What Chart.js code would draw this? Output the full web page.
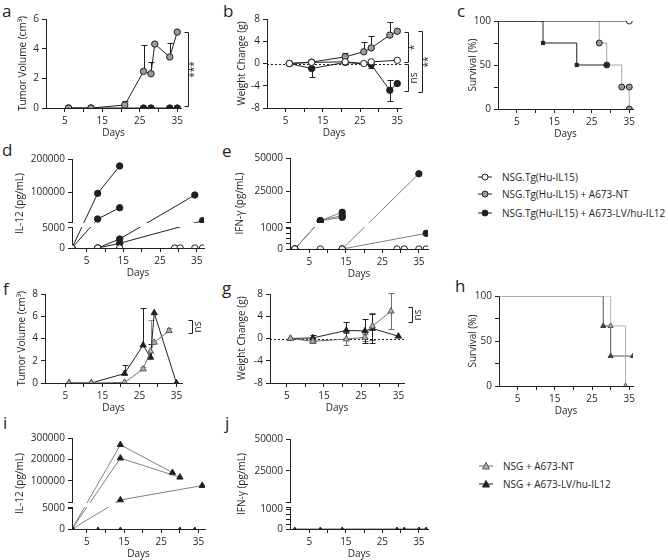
<!DOCTYPE html>
<html lang="en">
<head>
<meta charset="utf-8">
<title>IL-12 / IL-15 mouse panels</title>
<script src="https://cdn.jsdelivr.net/npm/chart.js@4.4.1/dist/chart.umd.min.js"></script>
<style>
  html, body { margin: 0; padding: 0; background: #fff; }
  body { position: relative; width: 668px; height: 560px; overflow: hidden;
         font-family: "Open Sans", sans-serif; color: #231f20; }
  canvas { position: absolute; }
  .tag { position: absolute; font-size: 17px; line-height: 17px; }
  .key { position: absolute; font-size: 10px; line-height: 12px; white-space: nowrap; }
  .key svg { vertical-align: middle; margin-right: 10px; position: relative; top: -1px; }
</style>
</head>
<body>
<div class="tag" style="left:2px;top:2px">a</div>
<div class="tag" style="left:223px;top:2px">b</div>
<div class="tag" style="left:457px;top:2px">c</div>
<div class="tag" style="left:2px;top:141px">d</div>
<div class="tag" style="left:222px;top:142px">e</div>
<div class="tag" style="left:3px;top:280px">f</div>
<div class="tag" style="left:222px;top:279px">g</div>
<div class="tag" style="left:455px;top:277px">h</div>
<div class="tag" style="left:3px;top:414px">i</div>
<div class="tag" style="left:225px;top:414px">j</div>

<div class="key" style="left:478px;top:171px"><svg width="14" height="8"><line x1="0" y1="4" x2="14" y2="4" stroke="#231f20"/><circle cx="7" cy="4" r="3" fill="#fff" stroke="#231f20"/></svg>NSG.Tg(Hu-IL15)</div>
<div class="key" style="left:478px;top:188px"><svg width="14" height="8"><line x1="0" y1="4" x2="14" y2="4" stroke="#231f20"/><circle cx="7" cy="4" r="3" fill="#9b9b9b" stroke="#231f20"/></svg>NSG.Tg(Hu-IL15) + A673-NT</div>
<div class="key" style="left:478px;top:207px"><svg width="14" height="8"><line x1="0" y1="4" x2="14" y2="4" stroke="#231f20"/><circle cx="7" cy="4" r="3" fill="#231f20" stroke="#231f20"/></svg>NSG.Tg(Hu-IL15) + A673-LV/hu-IL12</div>
<div class="key" style="left:479px;top:460px"><svg width="14" height="8"><line x1="0" y1="4" x2="14" y2="4" stroke="#6d6d6d"/><polygon points="7,0.5 10.5,7 3.5,7" fill="#b4b4b4" stroke="#555"/></svg>NSG + A673-NT</div>
<div class="key" style="left:479px;top:478px"><svg width="14" height="8"><line x1="0" y1="4" x2="14" y2="4" stroke="#231f20"/><polygon points="7,0.5 10.5,7 3.5,7" fill="#231f20" stroke="#231f20"/></svg>NSG + A673-LV/hu-IL12</div>

<script>
// ---- data ----
const dayTicks = [5, 10, 15, 20, 25, 30, 35];
const dayLabels = [5, 15, 25, 35];

// a: tumour volume, NSG.Tg(Hu-IL15)
const aTicks = [0, 2, 4, 6];
const aNTDays = [6, 12, 21, 26, 28, 29, 33, 35];
const aNT = [0, 0, 0.2, 2.47, 2.31, 4.31, 3.44, 5.12];
const aNTErr = [0, 0, 0.25, 1.8, 0.77, 0, 0.94, 0];
const aLVDays = [6, 12, 26, 28, 33, 35];
const aLV = [0, 0, 0, 0, 0, 0];

// b: weight change
const bTicks = [-8, -4, 0, 4, 8];
const bCtrlDays = [6, 12, 21, 26, 28, 35];
const bCtrl = [0, 0.2, 0.3, 0, 0.3, 0.57];
const bNTDays = [6, 12, 21, 26, 28, 33, 35];
const bNT = [0, 0.25, 1.2, 2.1, 2.8, 5.1, 5.8];
const bNTErr = [0, 0, 0.6, 1.7, 2.2, 2.3, 0];
const bLVDays = [6, 12, 21, 28, 33, 35];
const bLV = [0, -0.9, 0.2, -0.2, -4.8, -3.6];
const bLVErrHi = [0, 0, 0, 0, 1.8, 0];
const bLVErrLo = [0, 1.5, 0, 0.6, 1.9, 0];

// c: survival
const cTicks = [0, 25, 50, 75, 100];
const cLabels = [0, 50, 100];
const cCtrlDays = [0, 35];
const cCtrl = [100, 100];
const cNTDays = [0, 27, 29, 33, 35, 35];
const cNT = [100, 75, 50, 25, 25, 0];
const cLVDays = [0, 12, 21, 29];
const cLV = [100, 75, 50, 50];

// d: IL-12, one row per mouse
const dTicks = [0, 5000, 100000, 200000];
const dZeroDays = [1, 8, 14, 29, 30.5, 34.5, 36.6];
const dZero = [0, 0, 0, 0, 0, 0, 0];
const dDays = [[1, 8, 14], [1, 8, 14], [8, 14, 34.5], [8, 14, 36.6]];
const dIL12 = [[0, 96000, 178800], [0, 18200, 52400], [0, 2250, 90900], [0, 1170, 13000]];

// e: IFN-gamma, one row per mouse
const eTicks = [0, 250, 500, 750, 1000, 25000, 50000];
const eLabels = [0, 1000, 25000, 50000];
const eZeroDays = [1, 8, 14, 29, 31, 35, 37];
const eZero = [0, 0, 0, 0, 0, 0, 0];
const eDays = [[1, 8, 14], [1, 8, 14], [1, 8, 14], [14, 35], [14, 37]];
const eIFNg = [[0, 3300, 9600], [0, 3300, 7200], [0, 3300, 5800], [0, 38250], [0, 760]];

// f: tumour volume, NSG
const fTicks = [0, 2, 4, 6, 8];
const fNTDays = [6, 12, 21, 26, 28, 29, 33];
const fNT = [0, 0, 0.05, 1.25, 2.85, 3.65, 4.7];
const fNTErr = [0, 0, 0, 0.15, 2.8, 0, 0.2];
const fLVDays = [6, 12, 21, 26, 28, 29, 35];
const fLV = [0, 0, 0.85, 3.4, 2.3, 6.3, 0];
const fLVErr = [0, 0, 0.8, 3.3, 1.2, 0, 0];

// g: weight change, NSG
const gTicks = [-8, -4, 0, 4, 8];
const gNTDays = [6, 12, 21, 26, 28, 33];
const gNT = [0, -0.5, -0.1, 0.2, 2.2, 4.9];
const gNTErr = [0, 0.3, 1.1, 0.6, 2.4, 3.2];
const gLVDays = [6, 12, 21, 26, 28, 35];
const gLV = [0, 0.1, 1.45, 1.35, 1.8, 0.4];
const gLVErr = [0, 0.6, 1.6, 2.2, 2.6, 0];

// h: survival, NSG
const hNTDays = [0, 30, 34];
const hNT = [100, 66.7, 0];
const hLVDays = [0, 28, 30, 36];
const hLV = [100, 66.7, 33.3, 33.3];

// i: IL-12, NSG
const iTicks = [0, 5000, 100000, 200000, 300000];
const iZeroDays = [1, 8, 14, 30, 34];
const iZero = [0, 0, 0, 0, 0];
const iDays = [[1, 14, 28], [1, 14, 30], [1, 14, 36]];
const iIL12 = [[0, 268600, 139000], [0, 206000, 117000], [0, 11000, 78000]];

// j: IFN-gamma, NSG
const jZeroDays = [1, 8, 14, 29, 31, 35, 37];
const jZero = [0, 0, 0, 0, 0, 0, 0];

// ---- look ----
const INK = '#231f20';
const FONT = { family: '"Open Sans", sans-serif', size: 10 };

const CTRL = { borderColor: INK, pointBackgroundColor: '#fff', pointBorderColor: INK, pointRadius: 3.2 };
const NT = { borderColor: INK, pointBackgroundColor: '#9b9b9b', pointBorderColor: INK, pointRadius: 3.2 };
const LV = { borderColor: INK, pointBackgroundColor: INK, pointBorderColor: INK, pointRadius: 3.2 };
const TRI_NT = { borderColor: '#6d6d6d', pointStyle: 'triangle', pointBackgroundColor: '#b4b4b4', pointBorderColor: '#555', pointRadius: 3.6 };
const TRI_LV = { borderColor: INK, pointStyle: 'triangle', pointBackgroundColor: INK, pointBorderColor: INK, pointRadius: 3.6 };

// plot-area boxes in page pixels: l,t,r,b of the axes, ty = y title centre, tx = "Days" centre
const boxes = {
  a: { l: 46, t: 19, r: 181, b: 108, ty: 22.5, tx: 133, pr: 24 },
  b: { l: 267, t: 19, r: 401, b: 108, ty: 241.5, tx: 133, pr: 36 },
  c: { l: 498, t: 21, r: 633, b: 109, ty: 473, tx: 134, pr: 10 },
  d: { l: 72, t: 159, r: 204, b: 248, ty: 19.5, tx: 273, pr: 10 },
  e: { l: 290, t: 158, r: 428, b: 249, ty: 240, tx: 274, pr: 10 },
  f: { l: 45, t: 294, r: 182, b: 383, ty: 22, tx: 408, pr: 26 },
  g: { l: 270, t: 294, r: 404, b: 383, ty: 242, tx: 408, pr: 24 },
  h: { l: 499, t: 296, r: 633, b: 386, ty: 472.5, tx: 411, pr: 10 },
  i: { l: 72, t: 438, r: 205, b: 529, ty: 20, tx: 554, pr: 10 },
  j: { l: 290, t: 439, r: 428, b: 529, ty: 242, tx: 554, pr: 10 }
};

// y axis with a break: lower and upper value ranges share one axis
class BrokenScale extends Chart.LinearScale {
  getPixelForValue(value) {
    const br = this.options.break;
    const lo = br.lo, hi = br.hi, at = br.at;
    let dec;
    if (value <= lo[1]) dec = (value - lo[0]) / (lo[1] - lo[0]) * at[0];
    else if (value < hi[0]) dec = at[0] + (value - lo[1]) / (hi[0] - lo[1]) * (at[1] - at[0]);
    else dec = at[1] + (value - hi[0]) / (hi[1] - hi[0]) * (1 - at[1]);
    return this.getPixelForDecimal(dec);
  }
}
BrokenScale.id = 'broken';
BrokenScale.defaults = {};
Chart.register(BrokenScale);

function seg(ctx, x1, y1, x2, y2) {
  ctx.beginPath(); ctx.moveTo(x1, y1); ctx.lineTo(x2, y2); ctx.stroke();
}

// error bars, dotted zero line, significance brackets, axis break
function extras(spec) {
  return {
    id: 'extras',
    beforeDatasetsDraw(chart) {
      const { ctx, chartArea: ca, scales: { y } } = chart;
      ctx.save();
      ctx.lineWidth = 1;
      if (spec.zero) {
        const py = Math.round(y.getPixelForValue(0)) + 0.5;
        ctx.strokeStyle = INK;
        ctx.setLineDash([2, 2]);
        seg(ctx, ca.left, py, ca.right, py);
        ctx.setLineDash([]);
      }
      (spec.errors || []).forEach(e => {
        const meta = chart.getDatasetMeta(e.ds);
        const data = chart.data.datasets[e.ds].data;
        ctx.strokeStyle = e.color || INK;
        e.hi.forEach((h, k) => {
          const l = e.lo ? e.lo[k] : 0;
          if (!h && !l) return;
          const px = Math.round(meta.data[k].x) + 0.5;
          const v = data[k].y;
          const top = Math.round(y.getPixelForValue(v + h)) + 0.5;
          const bot = Math.round(y.getPixelForValue(v - l)) + 0.5;
          seg(ctx, px, top, px, bot);
          if (h) seg(ctx, px - 3, top, px + 3, top);
          if (l) seg(ctx, px - 3, bot, px + 3, bot);
        });
      });
      ctx.restore();
    },
    afterDraw(chart) {
      const { ctx, chartArea: ca, scales: { y } } = chart;
      ctx.save();
      ctx.lineWidth = 1;
      ctx.strokeStyle = INK;
      ctx.fillStyle = INK;
      (spec.brackets || []).forEach(b => {
        const x = Math.round(ca.right + b.dx) + 0.5;
        const y1 = Math.round(y.getPixelForValue(b.y1)) + 0.5;
        const y2 = Math.round(y.getPixelForValue(b.y2)) + 0.5;
        ctx.beginPath();
        ctx.moveTo(x - 4, y1); ctx.lineTo(x, y1); ctx.lineTo(x, y2); ctx.lineTo(x - 4, y2);
        ctx.stroke();
        ctx.save();
        ctx.translate(x + 6, (y1 + y2) / 2);
        ctx.rotate(-Math.PI / 2);
        ctx.font = '10px "Open Sans", sans-serif';
        ctx.textAlign = 'center';
        ctx.textBaseline = 'middle';
        ctx.fillText(b.text, 0, 0);
        ctx.restore();
      });
      if (spec.gap) {
        const at = y.options.break.at;
        const gT = Math.round(y.getPixelForDecimal(at[1]));
        const gB = Math.round(y.getPixelForDecimal(at[0]));
        ctx.fillStyle = '#fff';
        ctx.fillRect(ca.left - 3, gT + 1, ca.right - ca.left + 14, gB - gT - 1);
        seg(ctx, ca.left - 4, gT + 0.5, ca.left, gT + 0.5);
        seg(ctx, ca.left - 4, gB + 0.5, ca.left, gB + 0.5);
      }
      ctx.restore();
    }
  };
}

function series(xs, ys, look, more) {
  return Object.assign({
    data: xs.map((x, k) => ({ x, y: ys[k] })),
    borderWidth: 1, pointBorderWidth: 1, tension: 0, fill: false
  }, look, more || {});
}

function makeChart(key, datasets, xr, ycfg, spec) {
  const bx = boxes[key];
  const L = Math.round(bx.ty - 6), T = Math.round(bx.t) - 12;
  const W = Math.round(bx.r + bx.pr) - L, H = Math.round(bx.tx + 6) - T;
  const cv = document.createElement('canvas');
  cv.width = W; cv.height = H;
  cv.style.left = L + 'px'; cv.style.top = T + 'px';
  document.body.appendChild(cv);

  const tickGrid = { drawOnChartArea: false, tickLength: 4, color: INK, lineWidth: 1 };
  const xAxis = {
    type: 'linear', min: xr[0], max: xr[1], bounds: 'data',
    afterBuildTicks: s => { s.ticks = dayTicks.map(value => ({ value })); },
    afterFit: s => { s.height = T + H - Math.round(bx.b); },
    ticks: { autoSkip: false, maxRotation: 0, padding: 3, color: INK, font: FONT,
             callback: v => dayLabels.includes(v) ? String(v) : '' },
    grid: tickGrid,
    border: { color: INK, width: 1 },
    title: { display: true, text: 'Days', color: INK, font: FONT, padding: 0 }
  };
  const yAxis = Object.assign({
    type: 'linear', bounds: 'data',
    afterBuildTicks: s => { s.ticks = ycfg.ticks.map(value => ({ value })); },
    afterFit: s => { s.width = Math.round(bx.l) - L; },
    ticks: { autoSkip: false, padding: 3, color: INK, font: FONT,
             callback: v => ycfg.labels.includes(v) ? String(v) : '' },
    grid: tickGrid,
    border: { color: INK, width: 1 },
    title: { display: true, text: ycfg.title, color: INK, font: FONT, padding: 0 }
  }, ycfg.scale);

  return new Chart(cv, {
    type: 'line',
    data: { datasets },
    options: {
      responsive: false, animation: false, devicePixelRatio: 1, events: [],
      layout: { padding: { left: 0, bottom: 0, top: Math.round(bx.t) - T, right: W - (Math.round(bx.r) - L) } },
      plugins: { legend: { display: false }, tooltip: { enabled: false } },
      scales: { x: xAxis, y: yAxis }
    },
    plugins: [extras(spec || {})]
  });
}

const firstHidden = c => (c.dataIndex === 0 ? 0 : 3);

// a
makeChart('a', [
  series(aNTDays, aNT, NT),
  series(aLVDays, aLV, LV)
], [0, 36], { title: 'Tumor Volume (cm³)', ticks: aTicks, labels: aTicks, scale: { min: 0, max: 6 } }, {
  errors: [{ ds: 0, hi: aNTErr }],
  brackets: [{ y1: 5.15, y2: 0.15, dx: 7, text: '***' }]
});

// b
makeChart('b', [
  series(bCtrlDays, bCtrl, CTRL),
  series(bNTDays, bNT, NT),
  series(bLVDays, bLV, LV)
], [0, 36], { title: 'Weight Change (g)', ticks: bTicks, labels: bTicks, scale: { min: -8, max: 8 } }, {
  zero: true,
  errors: [{ ds: 1, hi: bNTErr }, { ds: 2, hi: bLVErrHi, lo: bLVErrLo }],
  brackets: [
    { y1: 5.7, y2: 0.3, dx: 7, text: '*' },
    { y1: 0.0, y2: -4.9, dx: 7, text: 'ns' },
    { y1: 5.9, y2: -5.1, dx: 20.5, text: '**' }
  ]
});

// c
makeChart('c', [
  series(cCtrlDays, cCtrl, CTRL, { stepped: 'before', pointRadius: firstHidden }),
  series(cLVDays, cLV, LV, { stepped: 'before', pointStyle: 'rect', pointRadius: c => (c.dataIndex === 0 ? 0 : 2.3) }),
  series(cNTDays, cNT, NT, { stepped: 'before', borderColor: '#a8a8a8', pointRadius: firstHidden })
], [0, 36], { title: 'Survival (%)', ticks: cTicks, labels: cLabels, scale: { min: 0, max: 100 } });

// d
makeChart('d', [series(dZeroDays, dZero, CTRL, { showLine: false })]
  .concat(dDays.map((xs, k) => series(xs, dIL12[k], LV))),
  [1, 37], { title: 'IL-12 (pg/mL)', ticks: dTicks, labels: dTicks,
    scale: { type: 'broken', min: 0, max: 200000, break: { lo: [0, 5250], hi: [9100, 200000], at: [0.236, 0.292] } } },
  { gap: true });

// e
makeChart('e', [series(eZeroDays, eZero, CTRL, { showLine: false })]
  .concat(eDays.map((xs, k) => series(xs, eIFNg[k], LV, { borderColor: '#808080' }))),
  [-0.3, 37.5], { title: 'IFN-γ (pg/mL)', ticks: eTicks, labels: eLabels,
    scale: { type: 'broken', min: 0, max: 50000, break: { lo: [0, 1050], hi: [2550, 50000], at: [0.238, 0.300] } } },
  { gap: true });

// f
makeChart('f', [
  series(fNTDays, fNT, TRI_NT),
  series(fLVDays, fLV, TRI_LV)
], [-0.5, 36.5], { title: 'Tumor Volume (cm³)', ticks: fTicks, labels: fTicks, scale: { min: 0, max: 8 } }, {
  errors: [{ ds: 0, hi: fNTErr, color: '#8a8a8a' }, { ds: 1, hi: fLVErr }],
  brackets: [{ y1: 5.65, y2: 4.5, dx: 10, text: 'ns' }]
});

// g
makeChart('g', [
  series(gNTDays, gNT, TRI_NT),
  series(gLVDays, gLV, TRI_LV)
], [0.5, 36.5], { title: 'Weight Change (g)', ticks: gTicks, labels: gTicks, scale: { min: -8, max: 8 } }, {
  zero: true,
  errors: [{ ds: 0, hi: gNTErr, lo: gNTErr, color: '#6d6d6d' }, { ds: 1, hi: gLVErr, lo: gLVErr }],
  brackets: [{ y1: 5.7, y2: 3.0, dx: 8, text: 'ns' }]
});

// h
makeChart('h', [
  series(hNTDays, hNT, TRI_NT, { stepped: 'before', borderColor: '#b0b0b0', pointRadius: firstHidden }),
  series(hLVDays, hLV, TRI_LV, { stepped: 'before', borderColor: '#555', pointBackgroundColor: '#444', pointBorderColor: '#444', pointRadius: firstHidden })
], [0, 36], { title: 'Survival (%)', ticks: cTicks, labels: cLabels, scale: { min: 0, max: 100 } });

// i
makeChart('i', [series(iZeroDays, iZero, TRI_LV, { showLine: false, pointRadius: 2 })]
  .concat(iDays.map((xs, k) => series(xs, iIL12[k], TRI_LV, { borderColor: '#808080' }))),
  [1, 36.75], { title: 'IL-12 (pg/mL)', ticks: iTicks, labels: iTicks,
    scale: { type: 'broken', min: 0, max: 300000, break: { lo: [0, 5400], hi: [3000, 300000], at: [0.245, 0.300] } } },
  { gap: true });

// j
makeChart('j', [series(jZeroDays, jZero, TRI_LV, { borderColor: '#9a9a9a', borderWidth: 1.5, pointRadius: 2 })],
  [-0.3, 37.5], { title: 'IFN-γ (pg/mL)', ticks: eTicks, labels: eLabels,
    scale: { type: 'broken', min: 0, max: 50000, break: { lo: [0, 1085], hi: [800, 50000], at: [0.241, 0.303] } } },
  { gap: true });
</script>
</body>
</html>
